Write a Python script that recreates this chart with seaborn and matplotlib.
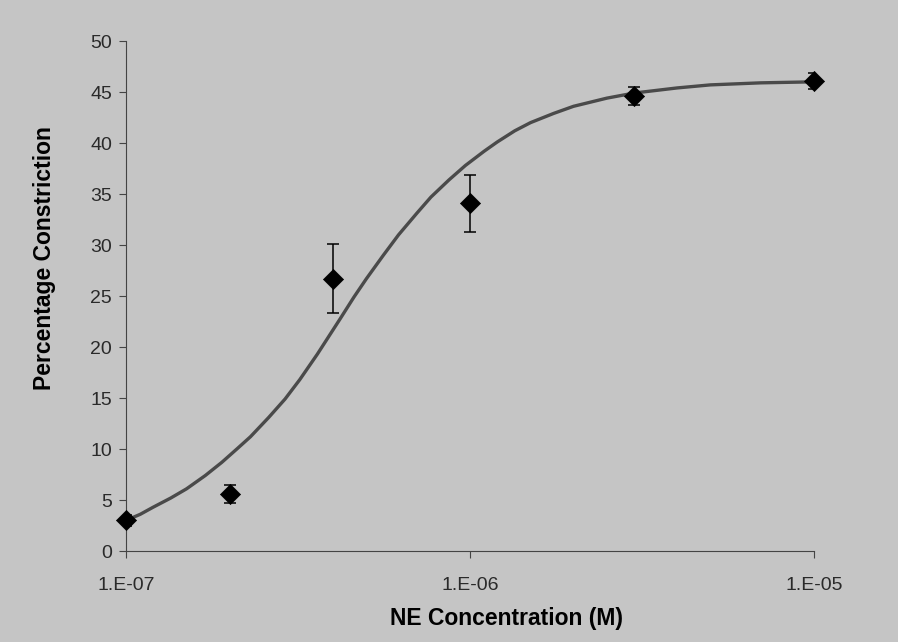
import matplotlib
matplotlib.use("Agg")
import matplotlib.pyplot as plt
import matplotlib.ticker as mticker
import seaborn as sns
import pandas as pd

# Measured responses (mean ± error) at each NE concentration
conc = [1e-7, 2e-7, 4e-7, 1e-6, 3e-6, 1e-5]
constriction = [3.0, 5.6, 26.7, 34.1, 44.6, 46.1]
error = [0.5, 0.9, 3.4, 2.8, 0.9, 0.8]

# Fitted dose-response curve
curve_conc = [1.0e-7, 1.1e-7, 1.2e-7, 1.35e-7, 1.5e-7, 1.7e-7, 1.9e-7, 2.1e-7,
              2.3e-7, 2.6e-7, 2.9e-7, 3.2e-7, 3.6e-7, 4.2e-7, 4.6e-7, 5.0e-7,
              5.6e-7, 6.2e-7, 7.0e-7, 7.7e-7, 8.7e-7, 9.7e-7, 1.1e-6, 1.2e-6,
              1.35e-6, 1.5e-6, 1.75e-6, 2.0e-6, 2.5e-6, 3.0e-6, 4.0e-6, 5.0e-6,
              7.0e-6, 1.0e-5]
curve_fit = [3.0, 3.6, 4.3, 5.2, 6.1, 7.4, 8.7, 10.0,
             11.2, 13.1, 14.9, 16.8, 19.3, 22.8, 24.9, 26.7,
             29.0, 31.0, 33.1, 34.7, 36.4, 37.8, 39.2, 40.1,
             41.2, 42.0, 42.9, 43.6, 44.4, 44.9, 45.4, 45.7,
             45.9, 46.0]

x_ticks = [1e-7, 1e-6, 1e-5]
x_tick_labels = ["1.E-07", "1.E-06", "1.E-05"]
y_ticks = list(range(0, 51, 5))

points = pd.DataFrame({"conc": conc, "constriction": constriction})
fit = pd.DataFrame({"conc": curve_conc, "constriction": curve_fit})

sns.set_style("ticks")
plt.rcParams["font.family"] = ["Liberation Sans", "DejaVu Sans"]

bg = "#c5c5c5"
fig = plt.figure(figsize=(8.98, 6.42), dpi=100, facecolor=bg)
ax = fig.add_axes([0.1403, 0.1417, 0.7661, 0.7944])
ax.set_facecolor(bg)

sns.lineplot(data=fit, x="conc", y="constriction", ax=ax, color="#4a4a4a",
             linewidth=2.4, zorder=2, solid_joinstyle="round",
             solid_capstyle="round")
ax.errorbar(conc, constriction, yerr=error, fmt="none", ecolor="black",
            elinewidth=1.1, capsize=4, capthick=1.1, zorder=3)
sns.scatterplot(data=points, x="conc", y="constriction", ax=ax, marker="D",
                s=105, color="black", edgecolor="black", linewidth=0.5,
                zorder=4, clip_on=False)

ax.set_xscale("log")
ax.set_xlim(1e-7, 1e-5)
ax.set_ylim(0, 50)
ax.xaxis.set_major_locator(mticker.FixedLocator(x_ticks))
ax.xaxis.set_minor_locator(mticker.NullLocator())
ax.set_xticks(x_ticks)
ax.set_xticklabels(x_tick_labels)
ax.set_yticks(y_ticks)

sns.despine(ax=ax)
for side in ("left", "bottom"):
    ax.spines[side].set_color("#444444")
    ax.spines[side].set_linewidth(0.8)

ax.tick_params(axis="y", colors="#444444", labelcolor="#2a2a2a",
               labelsize=14, length=5, width=0.8, pad=5)
ax.tick_params(axis="x", colors="#444444", labelcolor="#2a2a2a",
               labelsize=14, length=5, width=0.8, pad=14)

ax.set_xlabel("NE Concentration (M)", fontsize=16.5, fontweight="bold",
              color="black")
ax.set_ylabel("Percentage Constriction", fontsize=16.5, fontweight="bold",
              color="black")
ax.xaxis.set_label_coords(0.553, -0.110)
ax.yaxis.set_label_coords(-0.102, 0.574)

fig.savefig("out.png", dpi=100, facecolor=bg)
